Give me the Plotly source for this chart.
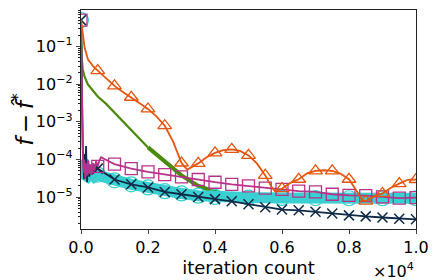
import plotly.graph_objects as go

# iteration counts and objective gaps for each method
orange_x = [0, 30, 60, 110, 210, 360, 500, 750, 1000, 1250, 1500, 1750, 2000, 2250, 2500, 2750, 3000, 3170, 3500, 3750, 4000, 4250, 4500, 4750, 5000, 5250, 5500, 5700, 5800, 6000, 6250, 6500, 6750, 7000, 7250, 7500, 7750, 8000, 8200, 8400, 8500, 8600, 8800, 9000, 9250, 9500, 9750, 10000]
orange_y = [5e-1, 2.8e-1, 2.0e-1, 9.1e-2, 4.5e-2, 3.0e-2, 2.3e-2, 1.4e-2, 9.0e-3, 6.2e-3, 4.5e-3, 3.1e-3, 2.2e-3, 1.4e-3, 7.9e-4, 3.0e-4, 8.1e-5, 5.4e-5, 7.9e-5, 1.15e-4, 1.5e-4, 1.78e-4, 1.86e-4, 1.7e-4, 1.29e-4, 7.9e-5, 3.8e-5, 1.8e-5, 1.4e-5, 1.7e-5, 2.4e-5, 3.0e-5, 4.3e-5, 5.0e-5, 5.2e-5, 5.0e-5, 4.2e-5, 3.0e-5, 1.6e-5, 8.3e-6, 7.9e-6, 8.9e-6, 1.12e-5, 1.26e-5, 1.78e-5, 2.3e-5, 2.9e-5, 2.95e-5]

magenta_x = [0, 15, 30, 45, 60, 80, 100, 130, 160, 190, 220, 250, 280, 320, 360, 400, 450, 500, 550, 600, 700, 800, 1000, 1500, 2000, 2500, 3000, 3500, 4000, 4500, 5000, 5500, 6000, 6500, 7000, 7500, 8000, 8500, 9000, 9500, 10000]
magenta_y = [5e-1, 5e-2, 1.5e-3, 2.5e-4, 1.0e-4, 4.5e-5, 1.0e-4, 3.0e-5, 8.0e-5, 3.8e-5, 9.5e-5, 4.2e-5, 7.5e-5, 4.0e-5, 8.0e-5, 5.0e-5, 9.0e-5, 6.6e-5, 9.5e-5, 1.15e-4, 1.05e-4, 9.3e-5, 7.6e-5, 5.75e-5, 4.7e-5, 4.0e-5, 3.47e-5, 2.95e-5, 2.5e-5, 2.2e-5, 2.0e-5, 1.74e-5, 1.62e-5, 1.45e-5, 1.38e-5, 1.2e-5, 1.12e-5, 1.1e-5, 1.02e-5, 9.5e-6, 9.8e-6]

green_x = [0, 20, 50, 100, 200, 300, 500, 750, 1000, 1250, 1500, 1750, 2000, 2500, 3000, 3500, 4000, 4500, 5000, 6000, 7000, 8000, 9000, 10000]
green_y = [5e-1, 5.0e-2, 2.5e-2, 1.66e-2, 1.0e-2, 7.6e-3, 4.7e-3, 3.0e-3, 1.78e-3, 1.05e-3, 6.3e-4, 3.55e-4, 2.1e-4, 8.9e-5, 3.8e-5, 2.0e-5, 1.4e-5, 1.12e-5, 1.0e-5, 9.5e-6, 9.5e-6, 9.3e-6, 9.3e-6, 9.3e-6]

cyan_x = [0, 20, 40, 60, 100, 200, 300, 400, 500, 750, 1000, 1500, 2000, 2500, 3000, 3500, 4000, 5000, 6000, 7000, 8000, 9000, 10000]
cyan_y = [5e-1, 1.0e-2, 3.0e-4, 1.0e-4, 4.0e-5, 3.5e-5, 4.5e-5, 3.5e-5, 4.0e-5, 3.3e-5, 2.8e-5, 2.2e-5, 1.82e-5, 1.45e-5, 1.26e-5, 1.1e-5, 1.02e-5, 9.8e-6, 9.6e-6, 9.5e-6, 9.4e-6, 9.4e-6, 9.4e-6]

navy_x = [0, 15, 30, 50, 70, 90, 110, 130, 150, 180, 210, 250, 290, 330, 370, 420, 460, 500, 1000, 1500, 2000, 2500, 3000, 3500, 4000, 4500, 5000, 5500, 6000, 6500, 7000, 7500, 8000, 8500, 9000, 9500, 10000]
navy_y = [5e-1, 4e-2, 1.5e-3, 2.0e-4, 1.0e-4, 3.0e-5, 1.4e-4, 4.0e-5, 2.3e-4, 2.5e-5, 8.0e-5, 3.5e-5, 7.0e-5, 4.0e-5, 6.5e-5, 4.5e-5, 7.0e-5, 5.75e-5, 2.95e-5, 2.2e-5, 1.82e-5, 1.38e-5, 1.2e-5, 1.02e-5, 8.9e-6, 7.8e-6, 6.5e-6, 5.4e-6, 4.7e-6, 4.5e-6, 4.1e-6, 3.7e-6, 3.3e-6, 3.1e-6, 2.9e-6, 2.7e-6, 2.6e-6]

x_tick_vals = [0, 2000, 4000, 6000, 8000, 10000]
x_tick_text = ["0.0", "0.2", "0.4", "0.6", "0.8", "1.0"]
y_tick_vals = [1e-5, 1e-4, 1e-3, 1e-2, 1e-1]
y_tick_text = ["10<sup>−5</sup>", "10<sup>−4</sup>", "10<sup>−3</sup>", "10<sup>−2</sup>", "10<sup>−1</sup>"]

ORANGE = "#e6550d"
MAGENTA = "#b5338a"
GREEN = "#4a8a0c"
CYAN = "#3acfd0"
NAVY = "#0f2a48"


def marks(xs, ys, start=0):
    px = [x for x in xs if x % 500 == 0 and x >= start]
    py = [y for x, y in zip(xs, ys) if x % 500 == 0 and x >= start]
    return px, py


fig = go.Figure()

# green (no markers): thin early descent, thicker noisy tail
g_split = green_x.index(2000)
fig.add_trace(go.Scatter(x=green_x[:g_split + 1], y=green_y[:g_split + 1], mode="lines",
                         line=dict(color=GREEN, width=2.2), showlegend=False))
fig.add_trace(go.Scatter(x=green_x[g_split:], y=green_y[g_split:], mode="lines",
                         line=dict(color=GREEN, width=4), showlegend=False))
# cyan: thin initial drop, thick noisy band afterwards
c_split = cyan_x.index(60)
fig.add_trace(go.Scatter(x=cyan_x[:c_split + 1], y=cyan_y[:c_split + 1], mode="lines",
                         line=dict(color=CYAN, width=1.5), showlegend=False))
fig.add_trace(go.Scatter(x=cyan_x[c_split:], y=cyan_y[c_split:], mode="lines",
                         line=dict(color=CYAN, width=11), showlegend=False))
cx, cy = marks(cyan_x, cyan_y)
fig.add_trace(go.Scatter(x=cx, y=cy, mode="markers",
                         marker=dict(symbol="circle-open", size=15, color=CYAN,
                                     line=dict(width=1.2, color=CYAN)), showlegend=False))
# navy with x markers
fig.add_trace(go.Scatter(x=navy_x, y=navy_y, mode="lines",
                         line=dict(color=NAVY, width=1.8), showlegend=False))
nx, ny = marks(navy_x, navy_y)
fig.add_trace(go.Scatter(x=nx, y=ny, mode="markers",
                         marker=dict(symbol="x-thin", size=10, color=NAVY,
                                     line=dict(width=1.5, color=NAVY)), showlegend=False))
# magenta with squares
fig.add_trace(go.Scatter(x=magenta_x, y=magenta_y, mode="lines",
                         line=dict(color=MAGENTA, width=1.8), showlegend=False))
mx, my = marks(magenta_x, magenta_y)
fig.add_trace(go.Scatter(x=mx, y=my, mode="markers",
                         marker=dict(symbol="square-open", size=12, color=MAGENTA,
                                     line=dict(width=1.3, color=MAGENTA)), showlegend=False))
# orange with triangles
fig.add_trace(go.Scatter(x=orange_x, y=orange_y, mode="lines",
                         line=dict(color=ORANGE, width=1.8), showlegend=False))
ox, oy = marks(orange_x, orange_y, start=500)
fig.add_trace(go.Scatter(x=ox, y=oy, mode="markers",
                         marker=dict(symbol="triangle-up-open", size=12, color=ORANGE,
                                     line=dict(width=1.3, color=ORANGE)), showlegend=False))

minor_y = []
for d in range(-6, 0):
    for m in range(2, 10):
        minor_y.append(m * 10 ** d)

# the page body has an 8px margin, so the figure is sized/offset to compensate
fig.update_layout(
    width=428, height=272,
    margin=dict(l=73, r=20, t=2, b=51, autoexpand=False),
    paper_bgcolor="white", plot_bgcolor="white",
    font=dict(family="DejaVu Sans", size=16, color="black"),
    xaxis=dict(range=[0, 10000], tickvals=x_tick_vals, ticktext=x_tick_text, automargin=False,
               ticks="outside", ticklen=4, tickwidth=1, showgrid=False, zeroline=False,
               showline=True, linecolor="#222", linewidth=1.2, mirror=True,
               tickfont=dict(size=16),
               title=dict(text="iteration count", font=dict(size=18), standoff=0)),
    yaxis=dict(type="log", range=[-5.843, -0.032], tickvals=y_tick_vals, ticktext=y_tick_text,
               automargin=False, tickfont=dict(size=16),
               ticks="outside", ticklen=4, tickwidth=1, showgrid=False, zeroline=False,
               showline=True, linecolor="#222", linewidth=1.2, mirror=True,
               minor=dict(tickvals=minor_y, ticks="outside", ticklen=2, tickwidth=0.8, tickcolor="#222"),
               title=dict(text="<i>f</i>\u2009−\u2009<i>f̂</i><sup>*</sup>", font=dict(size=23), standoff=3)),
)

fig.add_annotation(text="×10<sup>4</sup>", xref="paper", yref="paper", x=1.0, y=-0.19,
                   xanchor="right", yanchor="middle", showarrow=False, font=dict(size=16))

fig.write_html("out.html")
